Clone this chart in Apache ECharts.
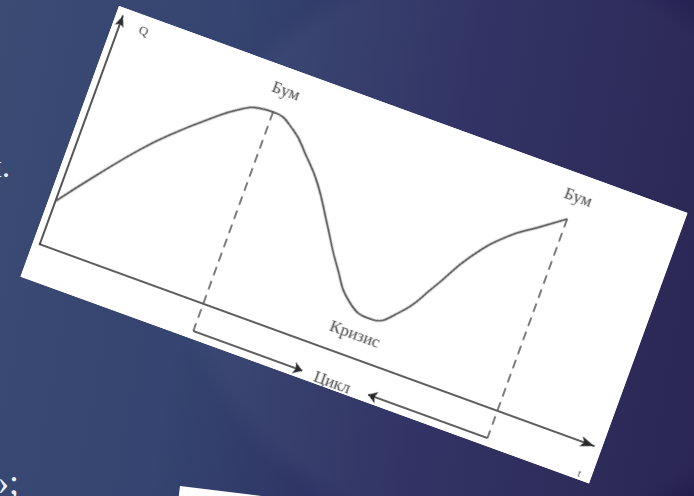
<!DOCTYPE html>
<html>
<head>
<meta charset="utf-8">
<script src="https://cdn.jsdelivr.net/npm/echarts@6/dist/echarts.min.js"></script>
<style>
  html, body { margin: 0; padding: 0; width: 694px; height: 496px; overflow: hidden; }
  body {
    position: relative;
    background:
      radial-gradient(ellipse 330px 300px at 500px 250px, rgba(255,255,255,0.035) 0%, rgba(255,255,255,0.035) 92%, rgba(255,255,255,0) 100%),
      linear-gradient(100deg, #3b4b74 0%, #354470 30%, #2b2d60 62%, #231e4d 100%);
  }
  .slidetext { position: absolute; color: #eef0f6; font-family: "Liberation Serif", serif; line-height: 1; white-space: nowrap; }
  #card { position: absolute; left: 118.5px; top: 6px; width: 605px; height: 288px; background: #fff; transform-origin: 0 0; transform: rotate(20deg); }
  #chart { width: 605px; height: 288px; }
  #paper { position: absolute; left: 180px; top: 486px; width: 220px; height: 60px; background: #fff; transform-origin: 0 0; transform: rotate(7deg); }
</style>
</head>
<body>
<div class="slidetext" style="left:-14px; top:150px; font-size:32px;">л.</div>
<div class="slidetext" style="left:-9px; top:464px; font-size:36px;">»;</div>
<div id="paper"></div>
<div id="card"><div id="chart"></div></div>
<script>
// Curve of the business cycle (t, Q)
const curveT = [0, 30, 62, 85, 115, 142, 161, 174, 199, 221, 240, 263, 287, 312, 336, 362, 385, 409, 437, 464, 487];
const curveQ = [46, 85, 124, 148, 175, 196, 204, 205, 195, 174, 153, 118, 81, 51, 43, 60, 95, 136, 168, 188, 205];
// Boom points (dashed verticals)
const boomT = [174, 487];
const boomQ = [205, 205];
const bracketQ = -29;
// Cycle bracket arrows: [from, to]
const cycleFrom = [174, 487];
const cycleTo = [290, 360];
// Text labels
const labelText = ['Бум', 'Бум', 'Кризис', 'Цикл'];
const labelT = [179, 490, 327, 322];
const labelQ = [228, 228, 23, -31];

const chart = echarts.init(document.getElementById('chart'), null, { renderer: 'canvas' });

const curveData = curveT.map((t, i) => [t, curveQ[i]]);
const dashData = boomT.map((t, i) => ({ coords: [[t, boomQ[i]], [t, bracketQ]] }));
const arrowData = cycleFrom.map((t, i) => ({ coords: [[t, bracketQ], [cycleTo[i], bracketQ]] }));
const labelData = labelText.map((s, i) => ({ value: [labelT[i], labelQ[i]], name: s }));

chart.setOption({
  animation: false,
  backgroundColor: '#ffffff',
  grid: { left: 7, right: 8, top: 8, bottom: 36 },
  xAxis: {
    type: 'value', min: 0, max: 590,
    name: 't', nameLocation: 'end', nameGap: -6,
    nameTextStyle: { color: '#555', fontFamily: 'Liberation Serif', fontSize: 11, verticalAlign: 'top', padding: [26, 0, 0, 0] },
    axisLine: { show: true, symbol: ['none', 'arrow'], symbolSize: [8, 14], lineStyle: { color: '#2a2a2a', width: 1.6 } },
    axisTick: { show: false }, axisLabel: { show: false }, splitLine: { show: false }
  },
  yAxis: {
    type: 'value', min: 0, max: 244,
    name: 'Q', nameLocation: 'end', nameGap: -14,
    nameTextStyle: { color: '#444', fontFamily: 'Liberation Serif', fontSize: 13, align: 'left', padding: [0, 0, 0, 20] },
    axisLine: { show: true, symbol: ['none', 'arrow'], symbolSize: [7, 11], lineStyle: { color: '#2a2a2a', width: 1.6 } },
    axisTick: { show: false }, axisLabel: { show: false }, splitLine: { show: false }
  },
  series: [
    {
      type: 'line', data: curveData, smooth: 0.5, symbol: 'none', clip: false,
      lineStyle: { color: '#585858', width: 1.7, shadowColor: 'rgba(0,0,0,0.25)', shadowBlur: 2 }
    },
    {
      type: 'lines', coordinateSystem: 'cartesian2d', clip: false, symbol: ['none', 'none'],
      lineStyle: { color: '#5c5c5c', width: 1.6, type: [9, 6], opacity: 1, curveness: 0 },
      data: dashData
    },
    {
      type: 'lines', coordinateSystem: 'cartesian2d', clip: false, symbol: ['none', 'arrow'], symbolSize: 9,
      lineStyle: { color: '#2a2a2a', width: 1.5, opacity: 1, curveness: 0 },
      data: arrowData
    },
    {
      type: 'scatter', data: labelData, symbolSize: 0, clip: false,
      label: {
        show: true, position: 'inside', formatter: p => p.name,
        color: '#3a3a3a', fontFamily: 'Liberation Serif', fontSize: 17,
        textShadowColor: 'rgba(0,0,0,0.25)', textShadowBlur: 1.5
      }
    }
  ]
});
</script>
</body>
</html>
